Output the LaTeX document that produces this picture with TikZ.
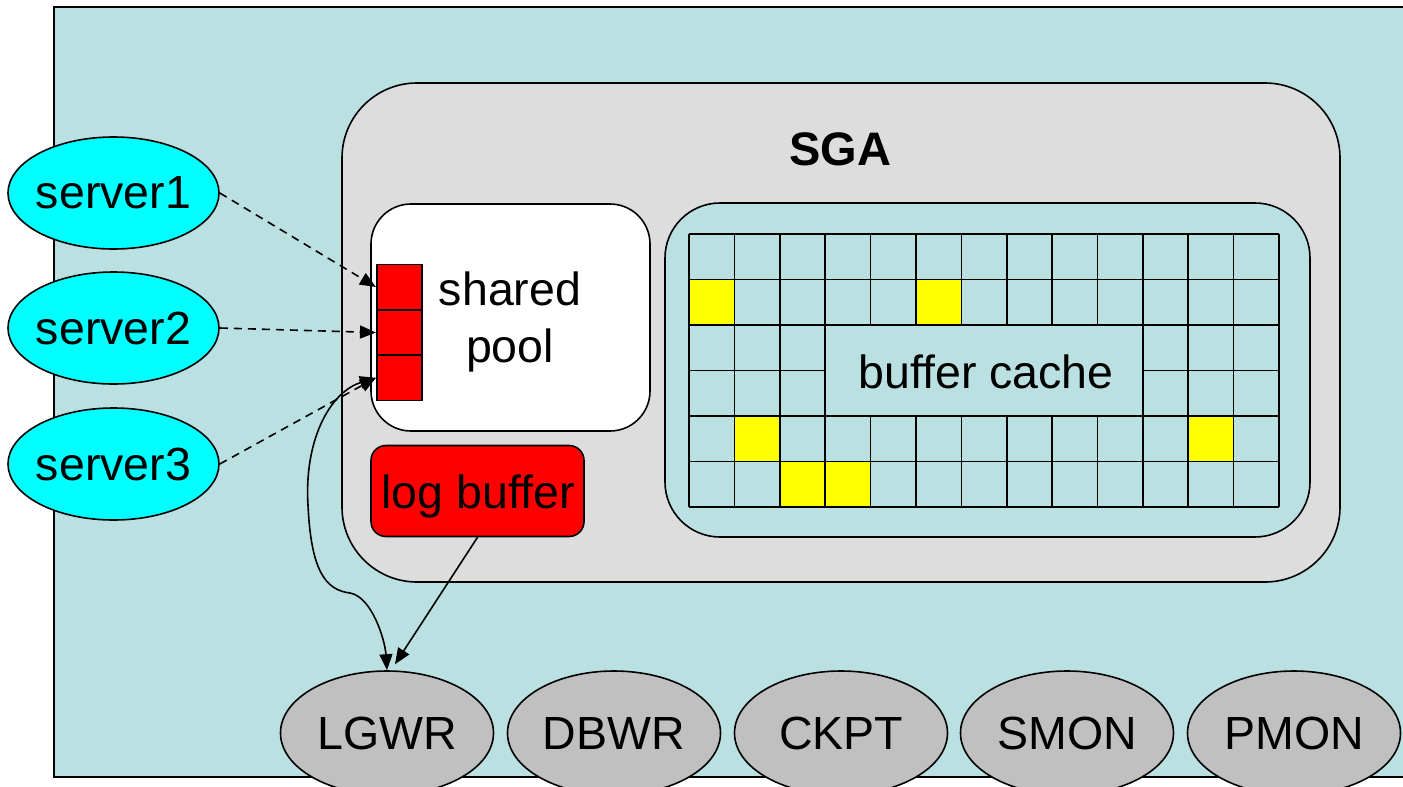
\documentclass[tikz,border=0pt]{standalone}
\usepackage{fontspec}
\setmainfont{Liberation Sans}
\usetikzlibrary{shapes.geometric,arrows.meta,calc}
\definecolor{bgblue}{RGB}{186,224,226}
\definecolor{sgagray}{RGB}{221,221,221}
\definecolor{procgray}{RGB}{192,192,192}
\definecolor{srvcyan}{RGB}{0,255,255}
\definecolor{cellred}{RGB}{255,0,0}
\definecolor{hotyellow}{RGB}{255,255,0}
\begin{document}
\begin{tikzpicture}[x=1pt,y=-1pt,line width=1.6pt,
  txt/.style={font=\fontsize{46.5}{57}\selectfont,inner sep=0pt},
  box/.style={draw,inner sep=0pt},
  server/.style={draw,ellipse,fill=srvcyan,minimum width=211pt,minimum height=112pt,inner xsep=-5pt,inner ysep=0pt,font=\fontsize{46.5}{57}\selectfont},
  proc/.style={draw,ellipse,fill=procgray,minimum width=213pt,minimum height=124pt,inner sep=0pt,font=\fontsize{46.5}{57}\selectfont},
  cell/.style={draw,fill=cellred,minimum width=45.5pt,minimum height=45.3pt,inner sep=0pt},
  tip/.style={-{Triangle[length=16pt,width=13pt]}},
  dtip/.style={{Triangle[length=16pt,width=13pt]}-{Triangle[length=16pt,width=13pt]}},
  dashline/.style={dash pattern=on 8pt off 6pt}]
\clip (0,0) rectangle (1403,787);
\fill[white] (0,0) rectangle (1403,787);
% outer system frame
\node[box,fill=bgblue,minimum width=1380pt,minimum height=770pt] (sys) at (744,392) {};
% SGA
\node[box,fill=sgagray,rounded corners=75pt,minimum width=998pt,minimum height=499pt] (sga) at (841,332.5) {};
\node[txt,anchor=base,font=\fontsize{47}{57}\selectfont\bfseries] (sgalabel) at (840,165) {SGA};
% shared pool
\node[box,fill=white,rounded corners=40pt,minimum width=279pt,minimum height=227pt] (sp) at (510.5,317.5) {};
\node[txt,anchor=base] (sptext1) at (510,305) {shared};
\node[txt,anchor=base] (sptext2) at (510,362) {pool};
\node[cell] (c1) at (399.5,287) {};
\node[cell] (c2) at (399.5,332.5) {};
\node[cell] (c3) at (399.5,377.8) {};
% log buffer
\node[box,fill=cellred,rounded corners=15pt,minimum width=213pt,minimum height=91pt] (lb) at (477.5,491) {};
\node[txt,anchor=base] (lbtext) at (478,508) {log buffer};
% buffer cache
\node[box,fill=bgblue,rounded corners=55pt,minimum width=645pt,minimum height=334pt] (bcbox) at (987.5,370) {};
\foreach \c/\r in {0/1,5/1,1/4,11/4,2/5,3/5}
  \fill[hotyellow] ({689+45.385*\c},{234+45.5*\r}) rectangle +(45.385,45.5);
\foreach \i in {0,...,13}
  \draw[line width=1.6pt] ({689+45.385*\i},234) -- ({689+45.385*\i},507);
\foreach \j in {0,...,6}
  \draw[line width=1.6pt] (689,{234+45.5*\j}) -- (1279,{234+45.5*\j});
\node[box,fill=bgblue,line width=1.6pt,minimum width=317.7pt,minimum height=91pt] (bc) at (984.4,370.5) {};
\node[txt,anchor=base] (bctext) at (986,388) {buffer cache};
% servers
\node[server] (s1) at (113.5,193) {server1};
\node[server] (s2) at (113.5,328) {server2};
\node[server] (s3) at (113.5,464) {server3};
% background processes
\node[proc] (lgwr) at (387,733) {LGWR};
\node[proc] (dbwr) at (614,733) {DBWR};
\node[proc] (ckpt) at (841,733) {CKPT};
\node[proc] (smon) at (1067,733) {SMON};
\node[proc] (pmon) at (1294,733) {PMON};
% connectors
\draw[dashline,tip] (s1.east) -- (c1.west);
\draw[dashline,tip] (s2.east) -- (c2.west);
\draw[dashline,tip] (s3.east) -- (c3.west);
\draw[dtip] (c3.west) .. controls (330,392) and (304,440) .. (308,505)
  .. controls (311,570) and (325,590) .. (350,593)
  .. controls (372,597) and (385,640) .. (lgwr.north);
\draw[tip] (lb.south) -- ([xshift=8pt,yshift=6pt]lgwr.north);
\end{tikzpicture}
\end{document}
